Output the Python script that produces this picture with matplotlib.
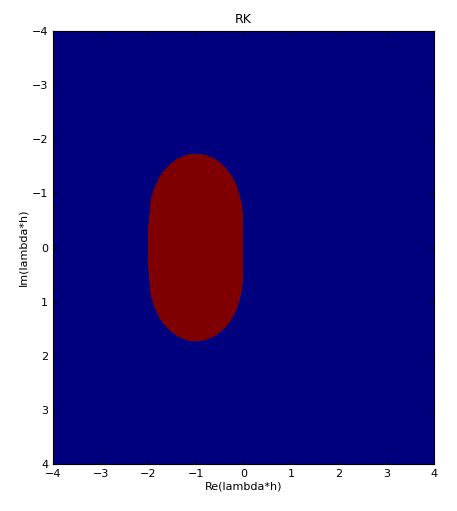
import numpy as np
import matplotlib
matplotlib.use("Agg")
from matplotlib import pyplot as plt

# grid limits and ticks
re_lim = [-4, 4]
im_lim = [-4, 4]
ticks = [-4, -3, -2, -1, 0, 1, 2, 3, 4]
n = 600

# stability of 2nd order RK: |1 + z + z^2/2| <= 1
re = np.linspace(re_lim[0], re_lim[1], n)
im = np.linspace(im_lim[0], im_lim[1], n)
X, Y = np.meshgrid(re, im)
Z = X + 1j * Y
stable = (np.abs(1 + Z + Z**2 / 2) <= 1).astype(float)

fig = plt.figure(figsize=(4.57, 5.11), dpi=100)
ax = fig.add_axes([53 / 457, 47 / 511, 381 / 457, 433 / 511])
ax.imshow(stable, cmap="jet", vmin=0, vmax=1, origin="upper",
          extent=[re_lim[0], re_lim[1], im_lim[1], im_lim[0]],
          aspect="auto", interpolation="nearest")
ax.set_xlim(re_lim)
ax.set_ylim(im_lim[1], im_lim[0])
ax.set_xticks(ticks)
ax.set_yticks(ticks)
ax.tick_params(direction="in", labelsize=8, length=3, top=True, right=True)
ax.set_title("RK", fontsize=9)
ax.set_xlabel("Re(lambda*h)", fontsize=8, labelpad=2)
ax.set_ylabel("Im(lambda*h)", fontsize=8, labelpad=2)
fig.savefig("out.png")
